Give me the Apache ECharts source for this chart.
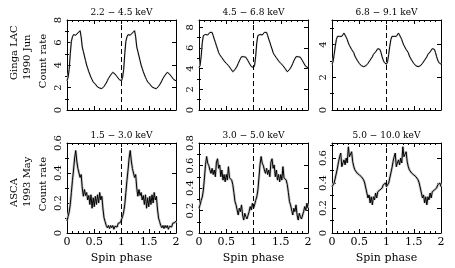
<!DOCTYPE html>
<html><head><meta charset="utf-8">
<script src="https://cdn.jsdelivr.net/npm/echarts@6/dist/echarts.min.js"></script>
<style>html,body{margin:0;padding:0;background:#fff}#c{width:455px;height:268px}</style>
</head><body><div id="c"></div>
<script>
// Panel titles (energy bands)
const titles = ['2.2 \u2212 4.5 keV', '4.5 \u2212 6.8 keV', '6.8 \u2212 9.1 keV',
                '1.5 \u2212 3.0 keV', '3.0 \u2212 5.0 keV', '5.0 \u2212 10.0 keV'];
const rowLabels = [['Ginga LAC', '1990 Jun'], ['ASCA', '1993 May']];
const yTitle = 'Count rate';
const xTitle = 'Spin phase';

// Pulse profiles, one cycle each, bins of 0.02 in phase (plotted twice)
const ginga_2_2_4_5 = [2.6,2.9,3.6,5.0,6.1,6.5,6.7,6.6,6.65,6.7,6.85,6.8,7.05,6.5,5.6,5.2,4.8,4.4,4.0,3.7,
  3.4,3.25,2.9,2.7,2.5,2.4,2.3,2.15,2.05,2.0,1.95,1.85,1.9,1.95,2.1,2.2,2.4,2.6,2.8,2.95,
  3.1,3.2,3.35,3.3,3.2,3.1,2.95,2.85,2.7,2.6];
const ginga_4_5_6_8 = [4.1,4.3,5.2,6.5,7.2,7.35,7.3,7.3,7.25,7.4,7.5,7.65,7.5,7.2,6.85,6.55,6.2,5.9,5.55,5.35,
  5.2,5.05,4.9,4.75,4.6,4.5,4.4,4.3,4.2,4.0,3.85,3.7,3.75,3.9,4.05,4.25,4.5,4.75,4.95,5.15,
  5.2,5.15,5.2,5.1,4.95,4.75,4.55,4.4,4.2,4.05];
const ginga_6_8_9_1 = [2.8,2.95,3.4,3.9,4.3,4.5,4.45,4.5,4.55,4.5,4.6,4.7,4.6,4.45,4.3,4.1,3.95,3.85,3.7,3.6,
  3.5,3.3,3.2,3.05,2.95,2.85,2.8,2.7,2.75,2.65,2.65,2.7,2.75,2.85,2.95,3.05,3.15,3.25,3.4,3.5,
  3.55,3.65,3.75,3.85,3.7,3.5,3.25,3.05,2.9,2.8];
const asca_1_5_3_0 = [0.08,0.11,0.14,0.19,0.27,0.35,0.42,0.50,0.55,0.48,0.43,0.40,0.37,0.39,0.30,0.245,0.29,0.25,0.27,0.22,
  0.25,0.19,0.255,0.165,0.235,0.175,0.245,0.19,0.255,0.20,0.27,0.22,0.245,0.16,0.10,0.075,0.05,0.035,0.05,0.03,
  0.05,0.035,0.05,0.025,0.045,0.055,0.04,0.065,0.075,0.07];
const asca_3_0_5_0 = [0.22,0.25,0.29,0.32,0.38,0.49,0.61,0.68,0.62,0.60,0.56,0.53,0.575,0.52,0.56,0.50,0.63,0.66,0.575,0.605,
  0.50,0.56,0.47,0.52,0.455,0.52,0.47,0.59,0.49,0.50,0.47,0.43,0.36,0.28,0.25,0.205,0.16,0.22,0.19,0.25,
  0.16,0.115,0.175,0.145,0.125,0.115,0.19,0.235,0.205,0.265];
const asca_5_0_10_0 = [0.37,0.385,0.40,0.44,0.48,0.52,0.57,0.61,0.64,0.53,0.56,0.585,0.545,0.60,0.56,0.69,0.61,0.625,0.65,0.57,
  0.53,0.505,0.52,0.48,0.49,0.465,0.48,0.45,0.465,0.425,0.40,0.36,0.32,0.28,0.305,0.24,0.29,0.225,0.29,0.265,
  0.32,0.28,0.33,0.32,0.345,0.33,0.36,0.385,0.37,0.40];
const profiles = [ginga_2_2_4_5, ginga_4_5_6_8, ginga_6_8_9_1, asca_1_5_3_0, asca_3_0_5_0, asca_5_0_10_0];

// Axis ranges and ticks
const xMin = 0, xMax = 2, xInterval = 0.5;
const yMax = [8, 8.7, 5.5, 0.6, 0.8, 0.72];
const yMajor = [[0,2,4,6,8],[0,2,4,6,8],[0,2,4],[0,0.2,0.4,0.6],[0,0.2,0.4,0.6,0.8],[0,0.2,0.4,0.6]];
const yMinor = [[1,3,5,7],[1,3,5,7],[1,3,5],[0.1,0.3,0.5],[0.1,0.3,0.5,0.7],[0.1,0.3,0.5,0.7]];
const dashPhase = 1;

// Layout
const lefts = [67, 199, 332], tops = [20, 143], W = 109, H = 90;
const FONT = 'DejaVu Serif';

const chart = echarts.init(document.getElementById('c'), null, {renderer: 'canvas'});
const grids = [], xAxes = [], yAxes = [], series = [], graphics = [];
const black = '#000';
for (let g = 0; g < 6; g++) {
  const row = Math.floor(g / 3), col = g % 3;
  grids.push({left: lefts[col], top: tops[row], width: W, height: H, containLabel: false});
  const xBase = {gridIndex: g, type: 'value', min: xMin, max: xMax, interval: xInterval,
    axisLine: {show: true, onZero: false, lineStyle: {color: black, width: 1}},
    axisTick: {show: true, inside: true, length: 4, lineStyle: {color: black}},
    minorTick: {show: true, splitNumber: 5, length: 2, lineStyle: {color: black}},
    splitLine: {show: false}, minorSplitLine: {show: false}};
  xAxes.push(Object.assign({}, xBase, {position: 'bottom',
    axisLabel: {show: row === 1, color: black, fontFamily: FONT, fontSize: 11, margin: 4,
      formatter: v => String(v)}}));
  xAxes.push(Object.assign({}, xBase, {position: 'top', axisLabel: {show: false}}));
  const yBase = {gridIndex: g, type: 'value', min: 0, max: yMax[g], splitLine: {show: false}};
  yAxes.push(Object.assign({}, yBase, {position: 'left',
    axisLine: {show: true, onZero: false, lineStyle: {color: black, width: 1}},
    axisTick: {show: true, inside: true, length: 4, customValues: yMajor[g], lineStyle: {color: black}},
    axisLabel: {show: true, customValues: yMajor[g], rotate: 90, color: black, fontFamily: FONT, fontSize: 10, margin: 4}}));
  yAxes.push(Object.assign({}, yBase, {position: 'left', axisLine: {show: false},
    axisTick: {show: true, inside: true, length: 2, customValues: yMinor[g], lineStyle: {color: black}},
    axisLabel: {show: false}}));
  yAxes.push(Object.assign({}, yBase, {position: 'right',
    axisLine: {show: true, onZero: false, lineStyle: {color: black, width: 1}},
    axisTick: {show: true, inside: true, length: 4, customValues: yMajor[g], lineStyle: {color: black}},
    axisLabel: {show: false}}));
  yAxes.push(Object.assign({}, yBase, {position: 'right', axisLine: {show: false},
    axisTick: {show: true, inside: true, length: 2, customValues: yMinor[g], lineStyle: {color: black}},
    axisLabel: {show: false}}));

  const prof = profiles[g], n = prof.length;
  const data = [];
  for (let k = 0; k < 2; k++) for (let i = 0; i < n; i++) data.push([k + i / n, prof[i]]);
  data.push([2, prof[0]]);
  const isAsca = row === 1;
  series.push({type: 'line', xAxisIndex: 2 * g, yAxisIndex: 4 * g, data, symbol: 'none', silent: true,
    lineStyle: {color: isAsca ? '#c4c4c4' : '#d0d0d0', width: isAsca ? 2.6 : 1.8}, z: 1});
  series.push({type: 'line', xAxisIndex: 2 * g, yAxisIndex: 4 * g, data, symbol: 'none', silent: true,
    lineStyle: {color: black, width: 1}, z: 2,
    markLine: {silent: true, symbol: 'none', label: {show: false},
      lineStyle: {color: black, type: [5, 3], width: 1}, data: [{xAxis: dashPhase}]}});

  graphics.push({type: 'text', x: lefts[col] + W / 2, y: tops[row] - 7,
    style: {text: titles[g], fill: black, font: '9px "' + FONT + '"', align: 'center', verticalAlign: 'middle'}});
  if (row === 1) graphics.push({type: 'text', x: lefts[col] + W / 2, y: 258,
    style: {text: xTitle, fill: black, font: '11px "' + FONT + '"', align: 'center', verticalAlign: 'middle'}});
}
// Row labels (rotated)
const rowBase = [80, 207];
for (let r = 0; r < 2; r++) {
  graphics.push({type: 'text', x: 14, y: rowBase[r], rotation: Math.PI / 2,
    style: {text: rowLabels[r][0], fill: black, font: '10px "' + FONT + '"', align: 'left', verticalAlign: 'middle'}});
  graphics.push({type: 'text', x: 27.5, y: rowBase[r], rotation: Math.PI / 2,
    style: {text: rowLabels[r][1], fill: black, font: '10px "' + FONT + '"', align: 'left', verticalAlign: 'middle'}});
  graphics.push({type: 'text', x: 43, y: tops[r] + H / 2 - 4, rotation: Math.PI / 2,
    style: {text: yTitle, fill: black, font: '10px "' + FONT + '"', align: 'center', verticalAlign: 'middle'}});
}

chart.setOption({animation: false, backgroundColor: '#fff', grid: grids, xAxis: xAxes, yAxis: yAxes,
  series, graphic: graphics});
</script></body></html>
